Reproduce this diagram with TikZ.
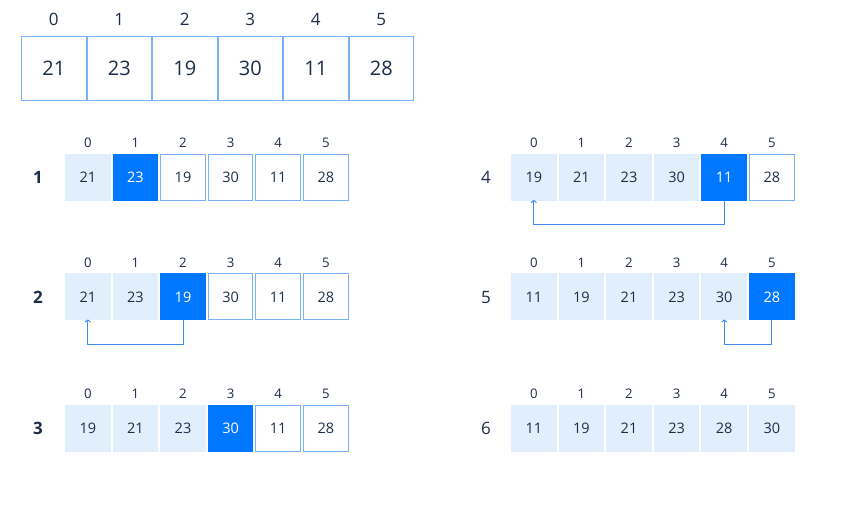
\documentclass[tikz,border=0pt]{standalone}
\usepackage{fontspec}
\setmainfont{Open Sans}
\usetikzlibrary{arrows.meta}

\definecolor{ink}{HTML}{1C2D4A}
\definecolor{paleblue}{HTML}{E1EEFC}
\definecolor{brightblue}{HTML}{0077FF}
\definecolor{edgeblue}{HTML}{7AB2FA}
\definecolor{arrowblue}{HTML}{3F8CF2}

\tikzset{
  cell/.style={minimum width=45.6pt, minimum height=47pt, inner sep=0pt, outer sep=0pt,
    text=ink, text height=10.5pt, text depth=0pt, font=\fontsize{14.5}{18}\selectfont},
  sorted/.style={cell, fill=paleblue},
  pivot/.style={cell, fill=brightblue, text=white},
  unsorted/.style={cell, draw=edgeblue, line width=1pt, minimum width=44.6pt, minimum height=46pt},
  bigcell/.style={cell, draw=edgeblue, line width=1pt, minimum width=64.5pt, minimum height=64pt,
    text height=14.5pt, font=\fontsize{20}{24}\selectfont},
  idx/.style={text=ink, inner sep=0pt, text height=9.5pt, text depth=0pt, font=\fontsize{13.2}{15}\selectfont},
  bigidx/.style={idx, text height=12.2pt, font=\fontsize{17}{20}\selectfont},
  rowlab/.style={text=ink, inner sep=0pt, text height=12.2pt, text depth=0pt, font=\fontsize{17}{20}\selectfont},
  swap/.style={draw=arrowblue, line width=1pt, shorten >=-1pt, -{To[length=3pt,width=6pt]}}
}

\begin{document}
\begin{tikzpicture}[x=1pt, y=-1pt]
\useasboundingbox (0,0) rectangle (846,510);

\foreach \v [count=\i from 0] in {21,23,19,30,11,28} {
  \node[bigcell] (a\i) at ({53.75+65.5*\i},68.5) {\v};
  \node[bigidx] (ai\i) at ({53.75+65.5*\i},19) {\i};
}

\foreach \r/\x/\lx/\y/\lab/\vals in {
    1/64/38/177.5/\textbf{1}/{21/sorted,23/pivot,19/unsorted,30/unsorted,11/unsorted,28/unsorted},
    2/64/38/297/\textbf{2}/{21/sorted,23/sorted,19/pivot,30/unsorted,11/unsorted,28/unsorted},
    3/64/38/428.5/\textbf{3}/{19/sorted,21/sorted,23/sorted,30/pivot,11/unsorted,28/unsorted},
    4/510/486/177.5/4/{19/sorted,21/sorted,23/sorted,30/sorted,11/pivot,28/unsorted},
    5/510/486/297/5/{11/sorted,19/sorted,21/sorted,23/sorted,30/sorted,28/pivot},
    6/510/486/428.5/6/{11/sorted,19/sorted,21/sorted,23/sorted,28/sorted,30/sorted}} {
  \node[rowlab] (l\r) at (\lx,\y) {\lab};
  \foreach \v/\s [count=\i from 0] in \vals {
    \node[\s] (r\r-\i) at ({\x+23.8+47.6*\i},\y) {\v};
    \node[idx] (i\r-\i) at ({\x+23.8+47.6*\i},\y-34.5) {\i};
  }
}

\draw[swap] (r2-2.south) -- ++(0,24) -| (r2-0.south);
\draw[swap] (r4-4.south) -- ++(0,24) -| (r4-0.south);
\draw[swap] (r5-5.south) -- ++(0,24) -| (r5-4.south);
\end{tikzpicture}
\end{document}
